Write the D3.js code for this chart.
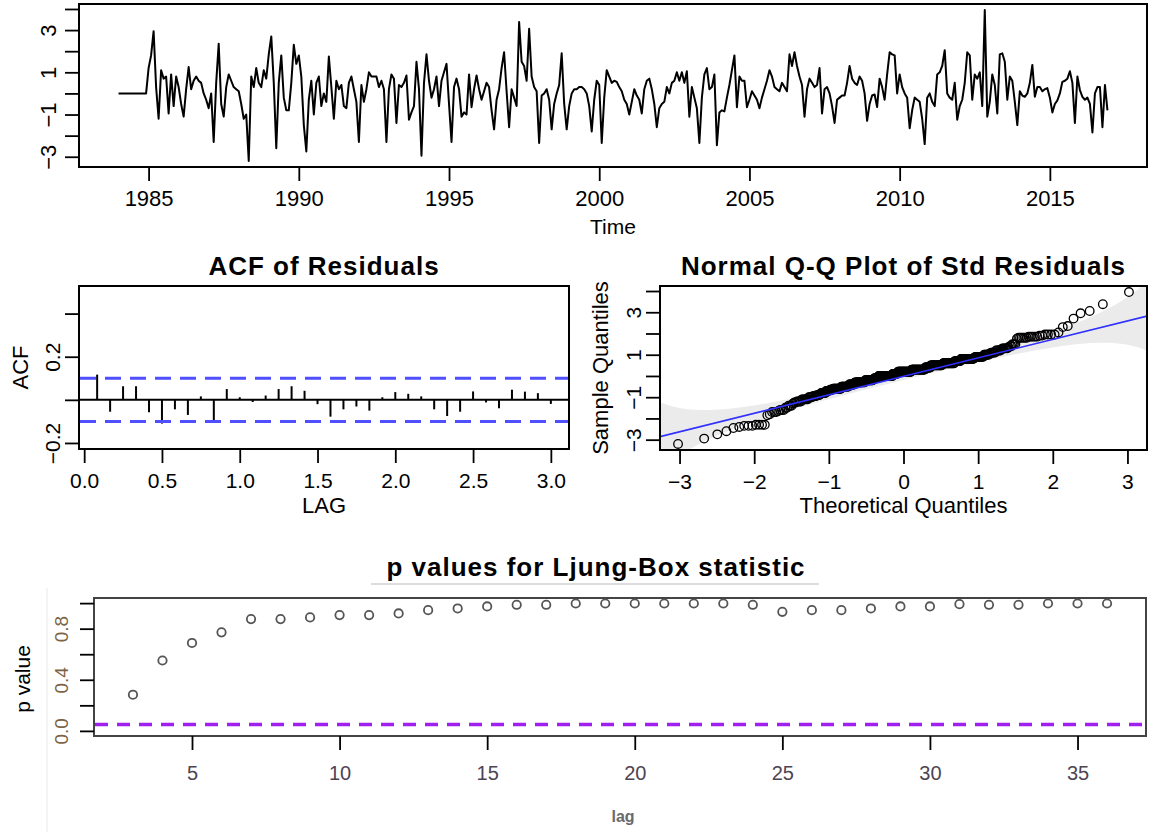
<!DOCTYPE html>
<html>
<head>
<meta charset="utf-8">
<script src="https://cdn.jsdelivr.net/npm/d3@7"></script>
<style>
body { margin: 0; background: #fff; }
svg { display: block; }
text { font-family: "Liberation Sans", Arial, sans-serif; fill: #000; }
</style>
</head>
<body>
<svg></svg>
<script>
const width = 1152;
const height = 832;

// standardized residuals, monthly from Jan 1984 (12 values per row)
const startYear = 1984;
const stdResid = [
    0, 0, 0, 0, 0, 0, 0, 0, 0, 0, 0, 0,
    1.2, 1.8, 2.95, 0.3, -1.2, 1.1, 0.7, 0.8, -0.95, 0.9, -0.6, 0.8,
    0.3, -0.5, -1.1, 0.2, 1.25, 0.2, 0.6, 0.8, 0.6, 0.5, 0.0, -0.3,
    -0.7, 0.0, -2.3, 0.5, 2.35, -0.5, -1.1, 0.3, 0.9, 0.6, 0.3, 0.2,
    0.1, -0.5, -1.2, -1.0, -3.2, 0.8, 0.3, 1.2, 0.5, 0.3, 1.1, 0.7,
    1.85, 2.7, 0.5, -2.6, 0.5, 1.8, -0.2, -0.8, -0.8, 0.5, 2.3, 1.4,
    1.8, 0.8, -1.5, -2.75, -0.3, 0.6, -1.0, 0.5, 0.8, -0.6, 0.0, -0.4,
    1.75, 0.3, -1.2, 0.6, 0.2, 0.4, -0.6, -0.7, 0.5, 0.8, 0.2, -0.4,
    -2.3, 0.4, -0.4, 0.2, 1.0, 0.8, 0.8, 0.8, 0.3, 0.6, 0.2, -2.3,
    0.2, 0.9, 0.7, -1.4, 0.4, 0.3, 0.5, 0.85, -1.25, -0.9, -0.6, 1.5,
    0.2, -2.95, 0.5, 1.85, 0.6, -0.2, 0.2, 0.8, -0.6, 0.6, 1.0, 1.4,
    -0.5, -2.3, 0.3, 0.7, 0.2, -1.1, -0.9, -1.0, 0.9, -0.65, 0.2, 0.85,
    0.2, -0.3, 0.1, 0.5, 0.3, -0.8, -1.7, -0.3, 0.2, 1.2, 1.95, 0.1,
    -1.6, 0.2, -0.2, -0.6, 3.38, 1.5, 1.3, 0.6, 3.06, 0.8, 0.3, 0.1,
    -2.35, -0.1, 0.0, 0.2, -0.3, -1.7, -0.5, 0.0, 0.4, 1.9, -0.5, -1.7,
    -0.6, 0.0, 0.2, 0.2, 0.3, 0.3, 0.2, 0.0, -0.6, -1.8, -0.3, 0.6,
    0.4, -2.35, -0.2, 1.1, 0.8, 0.5, 0.6, 0.55, 0.3, 0.1, -0.3, -0.5,
    -1.0, -0.4, 0.2, -0.1, -0.3, -0.95, 0.2, 0.6, 0.7, 0.2, -0.5, -1.6,
    -0.7, -0.5, -0.4, 0.3, 0.0, 0.5, 0.6, 1.0, 0.6, 1.0, 0.5, 1.05,
    -1.1, 0.3, -0.2, -0.7, -2.35, -0.2, 0.9, 1.2, 0.2, 0.3, 0.9, -2.45,
    -0.9, -0.8, -0.85, -0.2, 0.4, 1.1, 1.8, -0.65, 0.8, 0.6, 0.6, -0.65,
    -0.3, 0.1, -0.1, -0.3, -0.7, -0.2, 0.2, 0.6, 1.1, 0.8, 0.3, 0.2,
    0.1, 0.5, 0.3, 0.1, 1.85, 1.3, 1.95, 1.3, 0.8, 0.4, -1.1, 0.2,
    0.7, 0.5, 0.3, 0.4, 1.2, -0.95, 0.2, 0.3, 0.0, -0.6, -1.4, -0.3,
    -0.2, -0.1, -0.1, 0.5, 1.3, 0.7, 0.5, 0.4, 0.8, 0.6, 0.0, -1.3,
    -0.5, -0.1, -0.05, -0.65, 0.7, 0.3, -0.3, 0.9, 1.95, 1.85, 1.8, 0.0,
    0.9, 0.3, 0.0, -0.2, -1.65, -0.8, -0.2, -0.3, -0.4, -1.2, -2.4, -0.2,
    0.0, -0.4, -0.6, 0.9, 1.0, 1.3, 2.05, 0.0, -0.2, -0.3, 0.5, -1.25,
    -0.6, -0.3, 0.5, 1.95, 1.8, -0.3, 0.9, 0.7, 1.0, -0.6, 3.95, -1.1,
    -0.4, 0.9, 0.4, -0.95, 1.85, 1.9, 1.5, -0.3, 0.8, 0.6, -0.4, -1.5,
    0.1, -0.1, -0.16, 0.0, 0.5, 1.35, -0.16, 0.3, 0.3, 0.1, 0.2, 0.25,
    -0.2, -0.9, -0.5, -0.33, 0.0, 0.55, 0.6, 0.7, 1.05, 0.5, -1.4, 0.8,
    0.16, -0.16, -0.3, -0.2, -0.5, -1.85, 0.0, 0.3, 0.3, -1.6, 0.4, -0.8
];
const timeTicks = [1985, 1990, 1995, 2000, 2005, 2010, 2015];
const residTicks = [-3, -2, -1, 0, 1, 2, 3, 4];
const residLabels = [-3, -1, 1, 3];

// ACF of residuals, lags 1..36 months (shown in years)
const acfLags = d3.range(1, 37).map(k => k / 12);
const acfValues = [0.117, -0.055, 0.063, 0.063, -0.058, -0.11, -0.044, -0.07, 0.016, -0.094,
    0.05, 0.012, -0.01, 0.02, 0.05, 0.063, 0.042, -0.02, -0.078, -0.044,
    -0.031, -0.05, 0.012, 0.036, 0.028, 0.016, -0.044, -0.075, -0.055, 0.039,
    -0.012, -0.039, 0.047, 0.038, 0.031, -0.019];
const acfBound = 0.1;
const acfXTicks = [0, 0.5, 1, 1.5, 2, 2.5, 3];
const acfYTicks = [-0.2, 0, 0.2, 0.4];
const acfYLabels = [-0.2, 0.2];

// Q-Q line
const qqSlope = 0.87;
const qqIntercept = -0.02;
const qqEnvelope = 3.1;
const qqXTicks = [-3, -2, -1, 0, 1, 2, 3];

// Ljung-Box p values
const lbLags = d3.range(3, 37);
const lbPValues = [0.283, 0.551, 0.688, 0.771, 0.875, 0.875, 0.888, 0.906, 0.906, 0.919,
    0.945, 0.958, 0.974, 0.987, 0.987, 0.997, 0.997, 0.997, 0.997, 0.997,
    0.997, 0.987, 0.932, 0.945, 0.945, 0.958, 0.974, 0.974, 0.992, 0.987,
    0.987, 0.997, 0.997, 0.997];
const lbLevel = 0.05;
const lbXTicks = [5, 10, 15, 20, 25, 30, 35];
const lbYTicks = [0, 0.2, 0.4, 0.6, 0.8, 1.0];
const lbYLabels = [0, 0.4, 0.8];

const svg = d3.select("svg").attr("width", width).attr("height", height);

// R style 4% range expansion
function pad(ext) {
    const r = ext[1] - ext[0];
    return [ext[0] - 0.04 * r, ext[1] + 0.04 * r];
}

// inverse normal cdf (Acklam)
function qnorm(p) {
    const a = [-3.969683028665376e+01, 2.209460984245205e+02, -2.759285104469687e+02, 1.383577518672690e+02, -3.066479806614716e+01, 2.506628277459239e+00];
    const b = [-5.447609879822406e+01, 1.615858368580409e+02, -1.556989798598866e+02, 6.680131188771972e+01, -1.328068155288572e+01];
    const c = [-7.784894002430293e-03, -3.223964580411365e-01, -2.400758277161838e+00, -2.549732539343734e+00, 4.374664141464968e+00, 2.938163982698783e+00];
    const d = [7.784695709041462e-03, 3.224671290700398e-01, 2.445134137142996e+00, 3.754408661907416e+00];
    const pl = 0.02425;
    if (p < pl) {
        const q = Math.sqrt(-2 * Math.log(p));
        return (((((c[0] * q + c[1]) * q + c[2]) * q + c[3]) * q + c[4]) * q + c[5]) / ((((d[0] * q + d[1]) * q + d[2]) * q + d[3]) * q + 1);
    }
    if (p > 1 - pl) {
        const q = Math.sqrt(-2 * Math.log(1 - p));
        return -(((((c[0] * q + c[1]) * q + c[2]) * q + c[3]) * q + c[4]) * q + c[5]) / ((((d[0] * q + d[1]) * q + d[2]) * q + d[3]) * q + 1);
    }
    const q = p - 0.5, r = q * q;
    return (((((a[0] * r + a[1]) * r + a[2]) * r + a[3]) * r + a[4]) * r + a[5]) * q / (((((b[0] * r + b[1]) * r + b[2]) * r + b[3]) * r + b[4]) * r + 1);
}
function dnorm(z) { return Math.exp(-z * z / 2) / Math.sqrt(2 * Math.PI); }
function pnorm(z) {
    const t = 1 / (1 + 0.3275911 * Math.abs(z) / Math.SQRT2);
    const y = 1 - (((((1.061405429 * t - 1.453152027) * t) + 1.421413741) * t - 0.284496736) * t + 0.254829592) * t * Math.exp(-z * z / 2);
    return z >= 0 ? 0.5 * (1 + y) : 0.5 * (1 - y);
}

// common axis helpers
function bottomAxis(g, scale, ticks, labelY, fontSize, color) {
    g.call(d3.axisBottom(scale).tickValues(ticks).tickSize(14).tickSizeOuter(0)
        .tickFormat(d => d3.format(ticks.some(t => !Number.isInteger(t)) ? ".1f" : "d")(d)));
    g.select(".domain").remove();
    g.selectAll("line").attr("stroke", "#000").attr("stroke-width", 1.8);
    g.selectAll("text")
        .attr("y", labelY).attr("dy", null)
        .attr("dominant-baseline", "central")
        .style("font-size", fontSize + "px")
        .style("fill", color || "#000");
}
function leftAxis(g, scale, ticks, labels, labelX, fontSize, fmt, color) {
    g.call(d3.axisLeft(scale).tickValues(ticks).tickSize(14).tickSizeOuter(0)
        .tickFormat(d => labels.some(l => Math.abs(l - d) < 1e-9) ? fmt(d) : ""));
    g.select(".domain").remove();
    g.selectAll("line").attr("stroke", "#000").attr("stroke-width", 1.8);
    g.selectAll("text")
        .attr("x", null).attr("dy", null)
        .attr("text-anchor", "middle")
        .attr("dominant-baseline", "central")
        .attr("transform", `translate(${-labelX},0) rotate(-90)`)
        .style("font-size", fontSize + "px")
        .style("fill", color || "#000");
}
function frame(box, stroke, sw) {
    svg.append("rect")
        .attr("x", box.x0).attr("y", box.y0)
        .attr("width", box.x1 - box.x0).attr("height", box.y1 - box.y0)
        .attr("fill", "none").attr("stroke", stroke || "#000").attr("stroke-width", sw || 2);
}
function clip(id, box) {
    svg.append("clipPath").attr("id", id).append("rect")
        .attr("x", box.x0).attr("y", box.y0)
        .attr("width", box.x1 - box.x0).attr("height", box.y1 - box.y0);
}
function title(txt, x, y) {
    svg.append("text").attr("x", x).attr("y", y)
        .attr("text-anchor", "middle").attr("dominant-baseline", "central")
        .style("font-size", "26px").style("font-weight", "bold").style("letter-spacing", "1px")
        .text(txt);
}
function label(txt, x, y, size, rotate) {
    const t = svg.append("text")
        .attr("text-anchor", "middle").attr("dominant-baseline", "central")
        .style("font-size", size + "px")
        .text(txt);
    if (rotate) t.attr("transform", `translate(${x},${y}) rotate(-90)`);
    else t.attr("x", x).attr("y", y);
    return t;
}

// ---- time series of residuals
const topBox = { x0: 79, x1: 1147, y0: 4, y1: 167 };
const time = stdResid.map((v, i) => startYear + i / 12);
const tx = d3.scaleLinear().domain(pad(d3.extent(time))).range([topBox.x0, topBox.x1]);
const ty = d3.scaleLinear().domain(pad(d3.extent(stdResid))).range([topBox.y1, topBox.y0]);
clip("clipTop", topBox);
svg.append("path")
    .datum(stdResid)
    .attr("clip-path", "url(#clipTop)")
    .attr("fill", "none").attr("stroke", "#000").attr("stroke-width", 2)
    .attr("stroke-linejoin", "round")
    .attr("d", d3.line().x((d, i) => tx(time[i])).y(d => ty(d)));
frame(topBox);
bottomAxis(svg.append("g").attr("transform", `translate(0,${topBox.y1})`), tx, timeTicks, 31, 22);
leftAxis(svg.append("g").attr("transform", `translate(${topBox.x0},0)`), ty, residTicks, residLabels, 31, 22, d3.format("d"));
label("Time", (topBox.x0 + topBox.x1) / 2, 226, 21);

// ---- ACF of residuals
const acfBox = { x0: 79, x1: 569, y0: 286, y1: 449 };
const ax = d3.scaleLinear().domain(pad([acfLags[0], acfLags[acfLags.length - 1]])).range([acfBox.x0, acfBox.x1]);
const ay = d3.scaleLinear().domain(pad([-0.2, 0.5])).range([acfBox.y1, acfBox.y0]);
svg.append("g").selectAll("line").data(acfValues).enter().append("line")
    .attr("x1", (d, i) => ax(acfLags[i])).attr("x2", (d, i) => ax(acfLags[i]))
    .attr("y1", ay(0)).attr("y2", d => ay(d))
    .attr("stroke", "#000").attr("stroke-width", 2);
svg.append("line").attr("x1", acfBox.x0).attr("x2", acfBox.x1)
    .attr("y1", ay(0)).attr("y2", ay(0)).attr("stroke", "#000").attr("stroke-width", 2);
svg.append("g").selectAll("line").data([acfBound, -acfBound]).enter().append("line")
    .attr("x1", acfBox.x0 + 1).attr("x2", acfBox.x1 - 1)
    .attr("y1", d => ay(d)).attr("y2", d => ay(d))
    .attr("stroke", "#4f4fff").attr("stroke-width", 3).attr("stroke-dasharray", "16 9");
frame(acfBox);
bottomAxis(svg.append("g").attr("transform", `translate(0,${acfBox.y1})`), ax, acfXTicks, 31, 21);
leftAxis(svg.append("g").attr("transform", `translate(${acfBox.x0},0)`), ay, acfYTicks, acfYLabels, 27, 21, d3.format(".1f"));
title("ACF of Residuals", (acfBox.x0 + acfBox.x1) / 2, 266);
label("LAG", (acfBox.x0 + acfBox.x1) / 2, 505, 22);
label("ACF", 20, (acfBox.y0 + acfBox.y1) / 2, 22, true);

// ---- Normal Q-Q plot
const qqBox = { x0: 660, x1: 1147, y0: 286, y1: 450 };
const n = stdResid.length;
const sorted = stdResid.slice().sort(d3.ascending);
const zq = sorted.map((v, i) => qnorm((i + 0.5) / n));
const qx = d3.scaleLinear().domain(pad(d3.extent(zq))).range([qqBox.x0, qqBox.x1]);
const qy = d3.scaleLinear().domain(pad(d3.extent(sorted))).range([qqBox.y1, qqBox.y0]);
clip("clipQQ", qqBox);
const zGrid = d3.range(qx.domain()[0], qx.domain()[1] + 0.01, 0.02);
const halfWidth = z => {
    const P = pnorm(z);
    return qqEnvelope * qqSlope * Math.sqrt(P * (1 - P) / n) / dnorm(z);
};
svg.append("path")
    .datum(zGrid)
    .attr("clip-path", "url(#clipQQ)")
    .attr("fill", "#ebebeb")
    .attr("d", d3.area()
        .x(z => qx(z))
        .y0(z => qy(qqIntercept + qqSlope * z - halfWidth(z)))
        .y1(z => qy(qqIntercept + qqSlope * z + halfWidth(z))));
svg.append("g").attr("clip-path", "url(#clipQQ)")
    .selectAll("circle").data(sorted).enter().append("circle")
    .attr("cx", (d, i) => qx(zq[i])).attr("cy", d => qy(d))
    .attr("r", 4.3).attr("fill", "none").attr("stroke", "#000").attr("stroke-width", 1.3);
svg.append("line").attr("clip-path", "url(#clipQQ)")
    .attr("x1", qx(qx.domain()[0])).attr("x2", qx(qx.domain()[1]))
    .attr("y1", qy(qqIntercept + qqSlope * qx.domain()[0]))
    .attr("y2", qy(qqIntercept + qqSlope * qx.domain()[1]))
    .attr("stroke", "#3030ff").attr("stroke-width", 1.6);
frame(qqBox);
bottomAxis(svg.append("g").attr("transform", `translate(0,${qqBox.y1})`), qx, qqXTicks, 31, 21);
leftAxis(svg.append("g").attr("transform", `translate(${qqBox.x0},0)`), qy, residTicks, residLabels, 27, 21, d3.format("d"));
title("Normal Q-Q Plot of Std Residuals", (qqBox.x0 + qqBox.x1) / 2, 266);
label("Theoretical Quantiles", (qqBox.x0 + qqBox.x1) / 2, 505, 22);
label("Sample Quantiles", 600, (qqBox.y0 + qqBox.y1) / 2, 22, true);

// ---- Ljung-Box p values
const lbBox = { x0: 94, x1: 1146, y0: 598, y1: 736 };
const lx = d3.scaleLinear().domain(pad([lbLags[0], lbLags[lbLags.length - 1]])).range([lbBox.x0, lbBox.x1]);
const ly = d3.scaleLinear().domain(pad([0, 1])).range([lbBox.y1, lbBox.y0]);
svg.append("line").attr("x1", 47).attr("x2", 47).attr("y1", 588).attr("y2", height)
    .attr("stroke", "#f0f0f0").attr("stroke-width", 1.5);
svg.append("line").attr("x1", lbBox.x0 + 1).attr("x2", lbBox.x1 - 1)
    .attr("y1", ly(lbLevel)).attr("y2", ly(lbLevel))
    .attr("stroke", "#a020f0").attr("stroke-width", 3.5).attr("stroke-dasharray", "13 9");
svg.append("g").selectAll("circle").data(lbPValues).enter().append("circle")
    .attr("cx", (d, i) => lx(lbLags[i])).attr("cy", d => ly(d))
    .attr("r", 4.2).attr("fill", "none").attr("stroke", "#555").attr("stroke-width", 1.8);
frame(lbBox, "#444", 2);
bottomAxis(svg.append("g").attr("transform", `translate(0,${lbBox.y1})`), lx, lbXTicks, 37, 20, "#4d4452");
leftAxis(svg.append("g").attr("transform", `translate(${lbBox.x0},0)`), ly, lbYTicks, lbYLabels, 33, 19, d3.format(".1f"), "#7d6444");
title("p values for Ljung-Box statistic", 596, 567);
svg.append("line").attr("x1", 371).attr("x2", 819).attr("y1", 584).attr("y2", 584)
    .attr("stroke", "#dddddd").attr("stroke-width", 2);
label("p value", 22, 679, 21, true);
label("lag", 623, 816, 16).style("font-weight", "bold").style("fill", "#6a6a6a");
</script>
</body>
</html>
